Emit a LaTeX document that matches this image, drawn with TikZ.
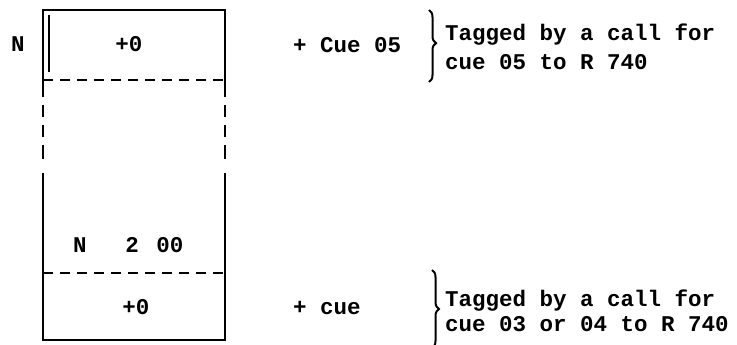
\documentclass[tikz,border=0pt]{standalone}
\usepackage{fontspec}
\setmonofont{Liberation Mono}
\usetikzlibrary{decorations.pathreplacing}
\begin{document}
\begin{tikzpicture}[x=1pt,y=-1pt,
  txt/.style={inner sep=0pt,anchor=base west,font=\fontsize{22.5}{27}\selectfont\ttfamily\bfseries},
  ctxt/.style={txt,anchor=base},
  wall/.style={line width=2.6pt},
  sep/.style={line width=2pt,dash pattern=on 10pt off 7pt},
  curly/.style={line width=2pt,decorate,decoration={brace,amplitude=7pt,aspect=#1}}]
\useasboundingbox (0,0) rectangle (737,345);
% memory block outline
\draw[wall] (43,97) -- (43,10) -- (225,10) -- (225,97);
\draw[wall] (43,173) -- (43,340) -- (225,340) -- (225,173);
\foreach \a/\b in {105/117,125/137,145/159}{
  \draw[wall] (43,\a) -- (43,\b);
  \draw[wall] (225,\a) -- (225,\b);
}
\draw[line width=2.4pt] (49,15) -- (49,72);
% word boundaries
\draw[sep] (43,80) -- (225,80);
\draw[sep] (43,273) -- (225,273);
% contents
\node[ctxt] (n) at (18,52) {N};
\node[ctxt] (w1) at (129,52) {+0};
\node[ctxt] (nn) at (80,252) {N};
\node[ctxt] (two) at (132,252) {2};
\node[ctxt] (zz) at (170,252) {00};
\node[ctxt] (w2) at (136,314) {+0};
% annotations
\node[txt] (c1) at (293,53) {+ Cue 05};
\draw[curly=0.46] (429,10) -- (429,82);
\node[txt] (t1) at (445,41) {Tagged by a call for};
\node[txt] (t2) at (445,70) {cue 05 to R 740};
\node[txt] (c2) at (293,314) {+ cue};
\draw[curly=0.5] (432,270) -- (432,348);
\node[txt] (t3) at (445,306) {Tagged by a call for};
\node[txt] (t4) at (445,331) {cue 03 or 04 to R 740};
\end{tikzpicture}
\end{document}
